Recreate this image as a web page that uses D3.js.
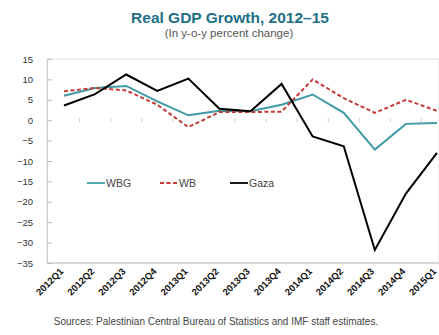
<!DOCTYPE html>
<html><head><meta charset="utf-8">
<script src="https://cdn.jsdelivr.net/npm/d3@7"></script>
<style>body{margin:0;background:#fff;} svg{display:block;font-family:"Liberation Sans",Arial,sans-serif;}</style>
</head><body>
<svg id="c" width="439" height="335"></svg>
<script>
const categories = ["2012Q1","2012Q2","2012Q3","2012Q4","2013Q1","2013Q2","2013Q3","2013Q4","2014Q1","2014Q2","2014Q3","2014Q4","2015Q1"];
const wbg  = [6.0, 7.9, 8.4, 4.6, 1.2, 2.3, 2.2, 3.8, 6.3, 1.8, -7.2, -0.9, -0.7];
const wb   = [7.1, 7.9, 7.3, 3.8, -1.7, 2.0, 2.0, 2.1, 10.0, 5.4, 1.8, 5.0, 2.3];
const gaza = [3.6, 6.4, 11.2, 7.2, 10.2, 2.8, 2.2, 8.9, -4.0, -6.4, -31.8, -18.0, -8.0];
const yTicks = [15, 10, 5, 0, -5, -10, -15, -20, -25, -30, -35];
const seriesNames = ["WBG", "WB", "Gaza"];

const svg = d3.select("#c");
const pL = 47, pR = 439, pT = 59, pB = 263;
const x = d3.scalePoint().domain(categories).range([64, 437]);
const y = d3.scaleLinear().domain([-35, 15]).range([pB, pT]);

// plot frame
svg.append("rect").attr("x", pL).attr("y", pT).attr("width", pR - pL).attr("height", pB - pT)
  .attr("fill", "none").attr("stroke", "#e4e4e4").attr("stroke-width", 1);

// y axis
const yAxis = d3.axisLeft(y).tickValues(yTicks).tickSize(-5).tickPadding(14).tickFormat(d3.format("d"));
const ya = svg.append("g").attr("transform", `translate(${pL},0)`).call(yAxis);
ya.select(".domain").attr("stroke", "#d0d0d0");
ya.selectAll(".tick line").attr("stroke", "#bbb");
ya.selectAll("text").attr("font-size", 9.5).attr("fill", "#333").attr("font-family", "Liberation Sans, Arial, sans-serif");

// bottom axis line
svg.append("line").attr("x1", pL).attr("x2", pR).attr("y1", pB).attr("y2", pB).attr("stroke", "#bdbdbd");

// faint category tick marks on zero line
const step = x.step();
svg.append("g").selectAll("line").data(categories.slice(1)).join("line")
  .attr("x1", d => x(d) - step / 2).attr("x2", d => x(d) - step / 2)
  .attr("y1", y(0) - 2).attr("y2", y(0) + 2).attr("stroke", "#cfcfcf");

// x labels
svg.append("g").selectAll("text").data(categories).join("text")
  .attr("transform", d => `translate(${x(d)},${pB + 9}) rotate(-45)`)
  .attr("text-anchor", "end").attr("font-size", 9.5).attr("font-weight", "bold").attr("fill", "#111")
  .text(d => d);

// lines
const line = d3.line().x((d, i) => x(categories[i])).y(d => y(d));
const series = [
  {name: seriesNames[0], values: wbg, color: "#3f9aa6", dash: null},
  {name: seriesNames[1], values: wb, color: "#c43a36", dash: "4,2.5"},
  {name: seriesNames[2], values: gaza, color: "#000", dash: null}
];
svg.append("g").selectAll("path").data(series).join("path")
  .attr("d", d => line(d.values)).attr("fill", "none").attr("stroke", d => d.color)
  .attr("stroke-width", 2).attr("stroke-dasharray", d => d.dash).attr("stroke-linejoin", "miter");

// legend
const legX = [87, 160, 230];
const lg = svg.append("g").selectAll("g").data(series).join("g")
  .attr("transform", (d, i) => `translate(${legX[i]},183)`);
lg.append("line").attr("x1", 0).attr("x2", 18).attr("stroke", d => d.color).attr("stroke-width", 1.8)
  .attr("stroke-dasharray", d => d.dash);
lg.append("text").attr("x", 19).attr("y", 4).attr("font-size", 10.5).attr("fill", "#444").text(d => d.name);

// title
svg.append("text").attr("x", 230).attr("y", 23).attr("text-anchor", "middle").attr("font-size", 15.5)
  .attr("font-weight", "bold").attr("fill", "#1d6f86").text("Real GDP Growth, 2012–15");
svg.append("text").attr("x", 229).attr("y", 37).attr("text-anchor", "middle").attr("font-size", 11.5)
  .attr("fill", "#555").text("(In y-o-y percent change)");

// source
svg.append("text").attr("x", 216).attr("y", 325).attr("text-anchor", "middle").attr("font-size", 10)
  .attr("fill", "#444").text("Sources: Palestinian Central Bureau of Statistics and IMF staff estimates.");
</script>
</body></html>
